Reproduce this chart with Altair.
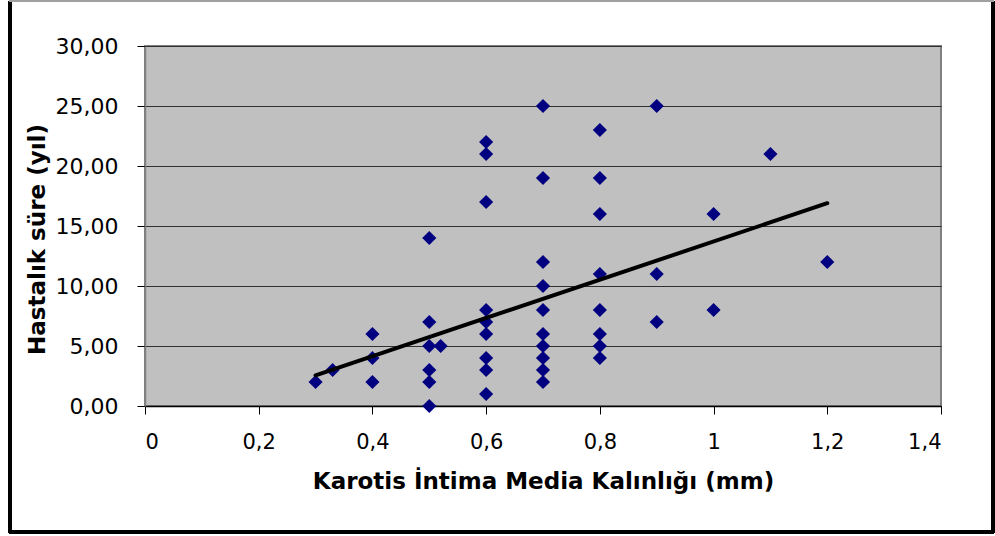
import altair as alt
import pandas as pd

# Scatter data (Karotis intima media kalınlığı vs hastalık süresi)
kimt = [0.3, 0.33,
        0.4, 0.4, 0.4,
        0.5, 0.5, 0.5, 0.5, 0.5, 0.5,
        0.52,
        0.6, 0.6, 0.6, 0.6, 0.6, 0.6, 0.6, 0.6, 0.6,
        0.7, 0.7, 0.7, 0.7, 0.7, 0.7, 0.7, 0.7, 0.7, 0.7,
        0.8, 0.8, 0.8, 0.8, 0.8, 0.8, 0.8, 0.8,
        0.9, 0.9, 0.9,
        1.0, 1.0,
        1.1,
        1.2]
sure = [2, 3,
        6, 4, 2,
        14, 7, 5, 3, 2, 0,
        5,
        22, 21, 17, 8, 7, 6, 4, 3, 1,
        25, 19, 12, 10, 8, 6, 5, 4, 3, 2,
        23, 19, 16, 11, 8, 6, 5, 4,
        25, 11, 7,
        16, 8,
        21,
        12]

# Linear trend line endpoints
trend_x = [0.3, 1.2]
trend_y = [2.55, 16.9]

x_ticks = [0, 0.2, 0.4, 0.6, 0.8, 1.0, 1.2, 1.4]
y_ticks = [0, 5, 10, 15, 20, 25, 30]

df = pd.DataFrame({"x": kimt, "y": sure})
tdf = pd.DataFrame({"x": trend_x, "y": trend_y})

FONT = "DejaVu Sans"

x_enc = alt.X(
    "x:Q",
    scale=alt.Scale(domain=[0, 1.4], nice=False, zero=False),
    axis=alt.Axis(
        values=x_ticks,
        labelExpr="replace(format(datum.value, '.1~f'), '.', ',')",
        title="Karotis İntima Media Kalınlığı (mm)",
        grid=False,
        domainColor="#000000",
        domainWidth=1.5,
        tickColor="#000000",
        tickSize=8,
        labelPadding=17,
        labelFontSize=21,
        labelFont=FONT,
        labelColor="#000000",
        titleFont=FONT,
        titleFontSize=23,
        titleFontWeight="bold",
        titleColor="#000000",
        titlePadding=18,
    ),
)
y_enc = alt.Y(
    "y:Q",
    scale=alt.Scale(domain=[0, 30], nice=False, zero=False),
    axis=alt.Axis(
        values=y_ticks,
        labelExpr="replace(format(datum.value, '.2f'), '.', ',')",
        title="Hastalık süre (yıl)",
        titleY=193,
        grid=True,
        gridColor="#303030",
        gridWidth=1,
        domainColor="#808080",
        domainWidth=1.5,
        tickColor="#000000",
        tickSize=8,
        labelPadding=19,
        labelFontSize=22,
        labelFont=FONT,
        labelColor="#000000",
        titleFont=FONT,
        titleFontSize=23,
        titleFontWeight="bold",
        titleColor="#000000",
        titlePadding=6,
    ),
)

points = alt.Chart(df).mark_point(
    shape="diamond", filled=True, color="#000080", size=200, opacity=1
).encode(x=x_enc, y=y_enc)

trend = alt.Chart(tdf).mark_line(color="#000000", strokeWidth=4, strokeCap="round").encode(
    x="x:Q", y="y:Q"
)

# Outer chart frame (decoration)
frame_left = alt.Chart(df).mark_rule(color="#000000", strokeWidth=3).encode(
    x=alt.value(-135), y=alt.value(-45), y2=alt.value(487)
)
frame_right = alt.Chart(df).mark_rule(color="#000000", strokeWidth=3).encode(
    x=alt.value(848), y=alt.value(-45), y2=alt.value(487)
)
frame_bottom = alt.Chart(df).mark_rule(color="#000000", strokeWidth=3).encode(
    x=alt.value(-136), x2=alt.value(849), y=alt.value(486)
)
frame_top = alt.Chart(df).mark_rule(color="#a0a0a0", strokeWidth=1.5).encode(
    x=alt.value(-136), x2=alt.value(849), y=alt.value(-45)
)

chart = alt.layer(points, trend, frame_left, frame_right, frame_bottom, frame_top).properties(
    width=796,
    height=360,
    autosize=alt.AutoSizeParams(type="none"),
    padding={"left": 145, "top": 46, "right": 54, "bottom": 130},
    background="#ffffff",
).configure_view(
    fill="#C0C0C0", stroke="#808080", strokeWidth=2
)

chart.save("out.html", embed_options={"renderer": "svg", "actions": False})
